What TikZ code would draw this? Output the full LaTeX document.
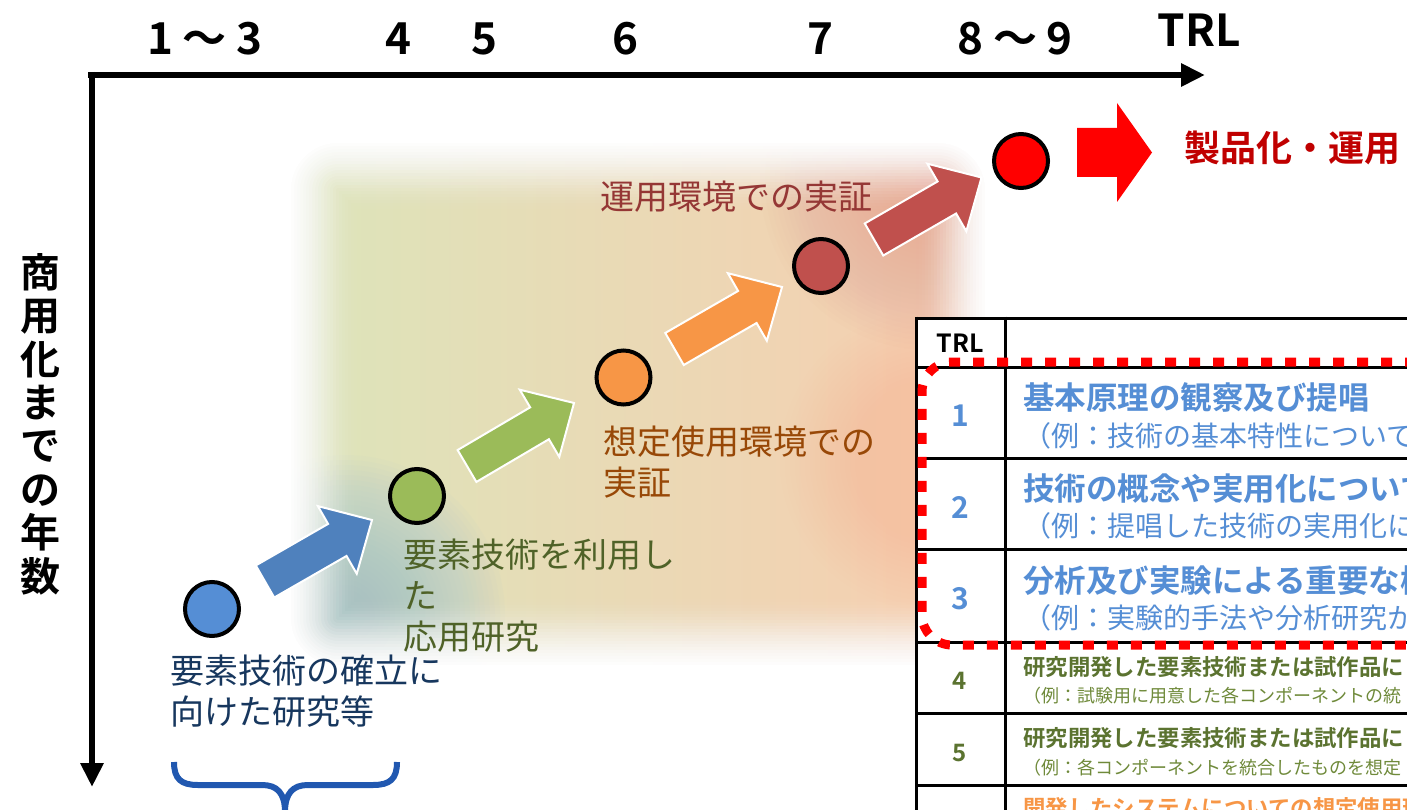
\documentclass[tikz,border=0pt]{standalone}
\usepackage{fontspec}
\setmainfont{Noto Sans CJK JP}[BoldFont={Noto Sans CJK JP Bold}]
\usetikzlibrary{calc,arrows.meta}
\definecolor{cblue}{HTML}{558ED5}
\definecolor{ablue}{HTML}{4F81BD}
\definecolor{cgreen}{HTML}{9BBB59}
\definecolor{corange}{HTML}{F79646}
\definecolor{cdred}{HTML}{C0504D}
\definecolor{cred}{HTML}{FF0000}
\definecolor{tnavy}{HTML}{17375E}
\definecolor{tolive}{HTML}{4F6228}
\definecolor{tbrown}{HTML}{984807}
\definecolor{tdred}{HTML}{953735}
\definecolor{tred}{HTML}{C00000}
\definecolor{tblue}{HTML}{558ED5}
\definecolor{rolive}{HTML}{5B7330}
\definecolor{rolivel}{HTML}{6F8A3A}
\definecolor{bgL}{HTML}{DCE5BA}
\definecolor{bgR}{HTML}{F8CDB0}
\definecolor{bgBlue}{HTML}{9DC2D8}
\definecolor{bgRed}{HTML}{E8A494}
\definecolor{bgBeige}{HTML}{F4E8CC}
\definecolor{bgPeach}{HTML}{F8C2A2}
\definecolor{braceblue}{HTML}{2158B0}
\newcommand\blkarrow[3]{%
  \coordinate (#1j) at ($(#2)!40pt!(#1)$);
  \filldraw[arrowbody, fill=#3]
    ($(#1)!18.5pt!90:(#2)$) -- ($(#1j)!18.5pt!90:(#2)$) -- ($(#1j)!39pt!90:(#2)$) -- (#2)
    -- ($(#1j)!39pt!-90:(#2)$) -- ($(#1j)!18.5pt!-90:(#2)$) -- ($(#1)!18.5pt!-90:(#2)$) -- cycle;
}
\begin{document}
\begin{tikzpicture}[x=1pt,y=-1pt,
  axisline/.style={line width=6pt,-{Triangle[length=24pt,width=22pt]}},
  toplbl/.style={anchor=base,inner sep=0pt,font=\fontsize{44}{50}\selectfont\bfseries},
  dot/.style={circle,draw=black,line width=4pt,minimum size=54pt,inner sep=0pt},
  arrowbody/.style={draw=white,line width=2pt,line join=miter},
  lbl/.style={anchor=base west,inner sep=0pt,align=left,font=\fontsize{34}{41}\selectfont},
  tline/.style={line width=3pt,black},
  numlbl/.style={anchor=base,inner sep=0pt,font=\fontsize{30}{36}\selectfont\bfseries},
  hbig/.style={anchor=base west,inner sep=0pt,font=\fontsize{31.5}{36}\selectfont\bfseries,text=tblue},
  rbig/.style={anchor=base west,inner sep=0pt,font=\fontsize{28}{32}\selectfont,text=tblue},
  hsmall/.style={anchor=base west,inner sep=0pt,font=\fontsize{22.4}{26}\selectfont\bfseries},
  rsmall/.style={anchor=base west,inner sep=0pt,font=\fontsize{18}{22}\selectfont,text=rolivel},
]
\useasboundingbox (0,0) rectangle (1407,810);
\clip (0,0) rectangle (1407,810);

% soft background
\begin{scope}
  \clip[rounded corners=50pt] (288,140) rectangle (988,668);
  \shade[left color=bgL,right color=bgR] (288,140) rectangle (988,668);
  \foreach \r in {10,15,...,220} \fill[bgBeige,opacity=0.035] (490,250) circle (\r);
  \foreach \r in {10,15,...,170} \fill[bgRed,opacity=0.035] (930,180) circle (\r);
  \foreach \r in {10,15,...,160} \fill[bgBlue,opacity=0.045] (345,615) circle (\r);
  \foreach \r in {10,15,...,150} \fill[bgPeach,opacity=0.025] (930,460) circle (\r);
\end{scope}
\foreach \k in {1,...,24}{%
  \pgfmathsetmacro\ta{(\k-1)/24}\pgfmathsetmacro\tb{\k/24}%
  \pgfmathsetmacro\op{1-(3*\ta*\ta-2*\ta*\ta*\ta)/(3*\tb*\tb-2*\tb*\tb*\tb)}%
  \pgfmathsetmacro\lw{6*\k}%
  \draw[white,opacity=\op,line width=\lw pt,rounded corners=50pt] (288,140) rectangle (988,668);
}

% axes
\coordinate (xs) at (88,75);
\coordinate (xe) at (1205,75);
\coordinate (ys) at (92,72);
\coordinate (ye) at (92,787);
\draw[axisline] (xs) -- (xe);
\draw[axisline] (ys) -- (ye);

% axis labels
\node[toplbl] (t13) at (205,55) {1\hspace{10pt}～\hspace{10pt}3};
\node[toplbl] (t4) at (398,55) {4};
\node[toplbl] (t5) at (484,55) {5};
\node[toplbl] (t6) at (625,55) {6};
\node[toplbl] (t7) at (820,55) {7};
\node[toplbl] (t89) at (1015,55) {8\hspace{10pt}～\hspace{10pt}9};
\node[toplbl] (trl) at (1199,47) {TRL};
\node[anchor=base,inner sep=0pt,align=center,font=\fontsize{40}{43.4}\selectfont\bfseries] (ylab) at (40,591)
  {商\\用\\化\\ま\\で\\の\\年\\数};

% circles
\node[dot,fill=cblue] (c1) at (212,609) {};
\node[dot,fill=cgreen] (c2) at (417,496) {};
\node[dot,fill=corange] (c3) at (623.5,377.5) {};
\node[dot,fill=cdred] (c4) at (821,266) {};
\node[dot,fill=cred] (c5) at (1021,161) {};

% block arrows
\coordinate (a1s) at (265,581.5); \coordinate (a1e) at (372,520);
\coordinate (a2s) at (467,466);   \coordinate (a2e) at (574,403);
\coordinate (a3s) at (674.5,349); \coordinate (a3e) at (782,287);
\coordinate (a4s) at (874,239.5); \coordinate (a4e) at (981.5,177.5);
\blkarrow{a1s}{a1e}{ablue}
\blkarrow{a2s}{a2e}{cgreen}
\blkarrow{a3s}{a3e}{corange}
\blkarrow{a4s}{a4e}{cdred}

% big red arrow and product label
\fill[cred] (1077,128) -- (1117,128) -- (1117,103) -- (1152,152.5) -- (1117,202) -- (1117,177) -- (1077,177) -- cycle;
\node[anchor=base west,inner sep=0pt,font=\fontsize{36}{40}\selectfont\bfseries,text=tred] (prod) at (1184,162) {製品化・運用};

% stage labels (base anchor = last line)
\node[lbl,text=tnavy] (l1) at (170,724) {要素技術の確立に\\向けた研究等};
\node[lbl,text=tolive] (l2) at (403,649) {要素技術を利用し\\た\\応用研究};
\node[lbl,text=tbrown] (l3) at (603,495) {想定使用環境での\\実証};
\node[lbl,text=tdred] (l4) at (600,210) {運用環境での実証};

% brace
\draw[braceblue,line width=6pt] (174,762) .. controls (174,779) and (181,785) .. (198,785) -- (262,785)
  .. controls (277,785) and (285,793) .. (285,812);
\draw[braceblue,line width=6pt] (397,762) .. controls (397,779) and (390,785) .. (373,785) -- (308,785)
  .. controls (293,785) and (285,793) .. (285,812);

% table
\fill[white] (916,318) rectangle (1410,812);
\draw[tline] (916,318) -- (1410,318);
\foreach \yy in {367,458,549,642,713,785} \draw[tline] (916,\yy) -- (1410,\yy);
\draw[tline] (916,316.5) -- (916,812);
\draw[tline] (1005,316.5) -- (1005,812);

\node[anchor=base,inner sep=0pt,font=\fontsize{25}{30}\selectfont\bfseries] (hdr) at (960,352) {TRL};
\node[numlbl,text=tblue] (n1) at (960,426) {1};
\node[numlbl,text=tblue] (n2) at (960,518) {2};
\node[numlbl,text=tblue] (n3) at (960,609) {3};
\node[numlbl,text=rolive,font=\fontsize{24}{28}\selectfont\bfseries] (n4) at (960,689) {4};
\node[numlbl,text=rolive,font=\fontsize{24}{28}\selectfont\bfseries] (n5) at (960,761) {5};

\node[hbig] (r1a) at (1023,409) {基本原理の観察及び提唱};
\node[rbig] (r1b) at (1023,446) {（例：技術の基本特性についての};
\node[hbig] (r2a) at (1023,500) {技術の概念や実用化について};
\node[rbig] (r2b) at (1023,536) {（例：提唱した技術の実用化に};
\node[hbig] (r3a) at (1023,592) {分析及び実験による重要な機};
\node[rbig] (r3b) at (1023,628) {（例：実験的手法や分析研究か};
\node[hsmall,text=rolive] (r4a) at (1023,675.5) {研究開発した要素技術または試作品に};
\node[rsmall] (r4b) at (1023,702) {（例：試験用に用意した各コンポーネントの統};
\node[hsmall,text=rolive] (r5a) at (1023,746.5) {研究開発した要素技術または試作品に};
\node[rsmall] (r5b) at (1023,774) {（例：各コンポーネントを統合したものを想定};
\node[hsmall,text=corange] (r6a) at (1023,816) {開発したシステムについての想定使用環境};

% red dotted frame
\draw[cred,line width=9pt,dash pattern=on 11pt off 13pt,rounded corners=30pt] (1440,362) -- (922,362) -- (922,645) -- (1440,645);
\end{tikzpicture}
\end{document}
